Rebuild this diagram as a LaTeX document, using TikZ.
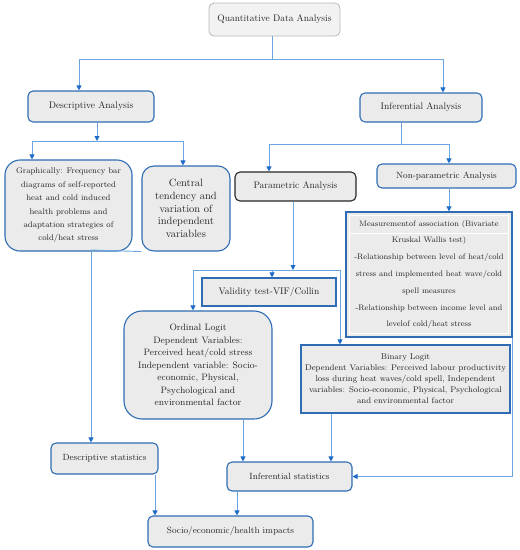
\documentclass[tikz,border=0pt]{standalone}
\usetikzlibrary{arrows.meta}
\definecolor{bx}{HTML}{2E6DB4}
\definecolor{ln}{HTML}{6AA5E0}
\definecolor{tipc}{HTML}{1F6BC8}
\definecolor{fl}{HTML}{EBEBEB}
\definecolor{tx}{HTML}{262626}
\definecolor{topd}{HTML}{B8B8B8}
\definecolor{topf}{HTML}{F2F2F2}
\begin{document}
\begin{tikzpicture}[x=1pt,y=-1pt,
 box/.style={draw=bx,line width=1.1pt,fill=fl,text=tx,align=center,inner sep=1pt,font=\fontsize{9.5}{12}\selectfont},
 rbox/.style={box,rounded corners=5pt},
 conn/.style={draw=ln,line width=0.9pt},
 arr/.style={conn,-{Triangle[length=5pt,width=5pt,color=tipc]}},
]
\useasboundingbox (0,0) rectangle (520,550);
% nodes
\node[rbox,draw=topd,line width=0.8pt,fill=topf,minimum width=131pt,minimum height=33pt] (top) at (274.5,19.5) {Quantitative Data Analysis};
\node[rbox,minimum width=126pt,minimum height=31pt] (desc) at (91,106.5) {Descriptive Analysis};
\node[rbox,minimum width=122pt,minimum height=29pt] (inf) at (421,107.5) {Inferential Analysis};
\node[box,rounded corners=15pt,minimum width=127pt,minimum height=91pt,font=\fontsize{8.2}{13.4}\selectfont] (graph) at (68.5,205.5) {Graphically: Frequency bar\\diagrams of self-reported\\heat and cold induced\\health problems and\\adaptation strategies of\\cold/heat stress};
\node[box,rounded corners=12pt,minimum width=88pt,minimum height=85pt,font=\fontsize{10.5}{12.6}\selectfont] (central) at (186,208.5) {Central\\tendency and\\variation of\\independent\\variables};
\node[rbox,draw=black!85,minimum width=121pt,minimum height=29pt] (param) at (295.5,186.5) {Parametric Analysis};
\node[rbox,minimum width=139pt,minimum height=24pt,font=\fontsize{9}{11}\selectfont] (nonparam) at (446.5,176) {Non-parametric Analysis};
\node[box,line width=1.3pt,minimum width=166pt,minimum height=125pt] (meas) at (429,274.5) {};
\draw[white,line width=1pt] ([xshift=4pt,yshift=-4pt]meas.north west) rectangle ([xshift=-4pt,yshift=4pt]meas.south east);
\draw[white,line width=1pt] (350,233) -- (508,233);
\node[text=tx,align=center,inner sep=0pt,font=\fontsize{8.0}{16.8}\selectfont] (meastext) at (meas.center) {Measurementof association (Bivariate\\Kruskal Wallis test)\\-Relationship between level of heat/cold\\stress and implemented heat wave/cold\\spell measures\\-Relationship between income level and\\levelof cold/heat stress};
\node[box,minimum width=134pt,minimum height=28pt] (valid) at (269,292) {Validity test-VIF/Collin};
\node[box,rounded corners=18pt,minimum width=148pt,minimum height=108pt,font=\fontsize{9.3}{12.5}\selectfont] (ordinal) at (198,365) {Ordinal Logit\\Dependent Variables:\\Perceived heat/cold stress\\Independent variable: Socio-\\economic, Physical,\\Psychological and\\environmental factor};
\node[box,minimum width=209pt,minimum height=68pt,font=\fontsize{8.3}{11}\selectfont] (binary) at (405.5,379) {Binary Logit\\Dependent Variables: Perceived labour productivity\\loss during heat waves/cold spell, Independent\\variables: Socio-economic, Physical, Psychological\\and environmental factor};
\node[rbox,minimum width=107pt,minimum height=31pt,font=\fontsize{9}{11}\selectfont] (dstat) at (104.5,458.5) {Descriptive statistics};
\node[rbox,minimum width=125pt,minimum height=29pt,font=\fontsize{9}{11}\selectfont] (istat) at (289.5,476.5) {Inferential statistics};
\node[rbox,minimum width=165pt,minimum height=31pt,font=\fontsize{9}{11}\selectfont] (socio) at (230.5,531.5) {Socio/economic/health impacts};
% junction coordinates
\coordinate (j1) at (272,59);
\coordinate (j1l) at (79,59);
\coordinate (j1r) at (443,59);
\coordinate (j2) at (97,141);
\coordinate (j2l) at (32,141);
\coordinate (j2r) at (183,141);
\coordinate (j3) at (401,144);
\coordinate (j3l) at (269,144);
\coordinate (j3r) at (449,144);
\coordinate (j4) at (293,270);
\coordinate (j4l) at (193,270);
\coordinate (j4m) at (272,270);
\coordinate (j4r) at (340,270);
\coordinate (j5) at (91,250);
\coordinate (x243) at (243,0);
\coordinate (x331) at (331,0);
\coordinate (x155) at (155,0);
\coordinate (x237) at (237,0);
% connectors
\draw[conn] (top.south -| j1) -- (j1);
\draw[conn] (j1l) -- (j1r);
\draw[arr] (j1l) -- (j1l |- desc.north);
\draw[arr] (j1r) -- (j1r |- inf.north);
\draw[arr] (desc.south -| j2) -- (j2);
\draw[conn] (j2l) -- (j2r);
\draw[arr] (j2l) -- (j2l |- graph.north);
\draw[arr] (j2r) -- (j2r |- central.north);
\draw[conn] (inf.south -| j3) -- (j3);
\draw[conn] (j3l) -- (j3r);
\draw[arr] (j3l) -- (j3l |- param.north);
\draw[arr] (j3r) -- (j3r |- nonparam.north);
\draw[arr] (nonparam.south -| j3r) -- (j3r |- meas.north);
\draw[arr] (param.south -| j4) -- (j4);
\draw[conn] (j4l) -- (j4r);
\draw[arr] (j4l) -- (j4l |- ordinal.north);
\draw[arr] (j4m) -- (j4m |- valid.north);
\draw[arr] (j4r) -- (j4r |- binary.north);
\draw[conn] (central.south west) -- (j5);
\draw[arr] (graph.south -| j5) -- (j5 |- dstat.north);
\draw[arr] (ordinal.south -| x243) -- (x243 |- istat.north);
\draw[arr] (binary.south -| x331) -- (x331 |- istat.north);
\draw[arr] (meas.south east) |- (istat.east);
\draw[arr] (dstat.south -| x155) -- (x155 |- socio.north);
\draw[arr] (istat.south -| x237) -- (x237 |- socio.north);
\end{tikzpicture}
\end{document}
